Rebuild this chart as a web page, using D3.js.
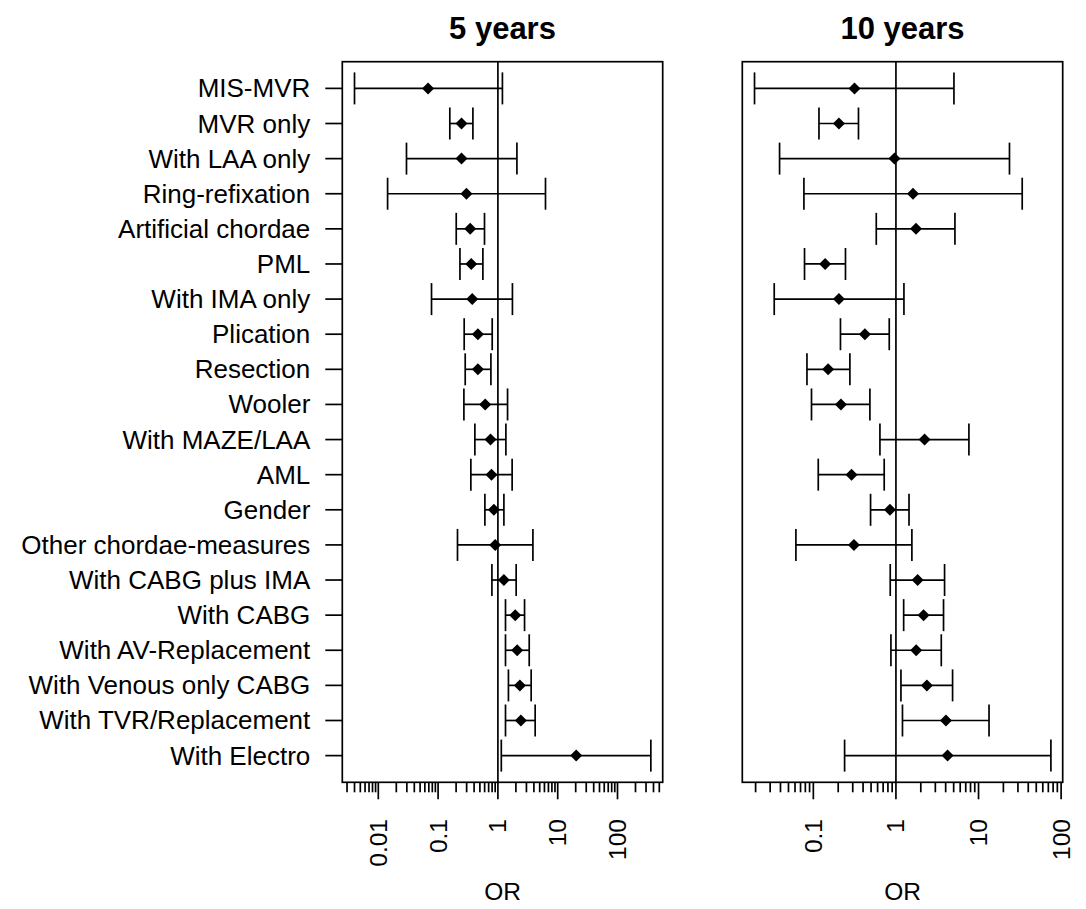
<!DOCTYPE html>
<html>
<head>
<meta charset="utf-8">
<script src="https://cdn.jsdelivr.net/npm/d3@7"></script>
<style>
  html, body { margin: 0; padding: 0; background: #fff; }
  text { font-family: "Liberation Sans", Arial, sans-serif; fill: #000; }
</style>
</head>
<body>
<svg id="chart" width="1086" height="909"></svg>
<script>
// ---- data ----
const labels = ["MIS-MVR","MVR only","With LAA only","Ring-refixation","Artificial chordae","PML","With IMA only","Plication","Resection","Wooler","With MAZE/LAA","AML","Gender","Other chordae-measures","With CABG plus IMA","With CABG","With AV-Replacement","With Venous only CABG","With TVR/Replacement","With Electro"];

const or5 = [0.068,0.246,0.246,0.298,0.344,0.358,0.372,0.463,0.463,0.613,0.752,0.781,0.857,0.90,1.26,1.95,2.10,2.33,2.42,20.4];
const lo5 = [0.0040,0.157,0.0296,0.0143,0.201,0.232,0.0776,0.273,0.284,0.270,0.412,0.353,0.606,0.211,0.794,1.34,1.34,1.50,1.34,1.14];
const hi5 = [1.19,0.382,2.08,6.25,0.597,0.561,1.75,0.803,0.764,1.45,1.36,1.73,1.26,3.85,2.02,2.79,3.34,3.60,4.20,361];

const or10 = [0.315,0.204,0.96,1.61,1.75,0.139,0.204,0.421,0.151,0.216,2.22,0.29,0.846,0.31,1.83,2.16,1.76,2.37,4.03,4.22];
const lo10 = [0.0194,0.117,0.039,0.0769,0.578,0.0782,0.0336,0.213,0.0837,0.095,0.64,0.1147,0.493,0.0615,0.853,1.24,0.87,1.15,1.20,0.239];
const hi10 = [5.04,0.352,23.7,33.8,5.18,0.245,1.25,0.83,0.277,0.484,7.65,0.721,1.44,1.56,3.88,3.77,3.54,4.85,13.4,75.2];

const titles = ["5 years", "10 years"];
const majorTicks5 = [0.01, 0.1, 1, 10, 100];
const majorTickLabels5 = ["0.01", "0.1", "1", "10", "100"];
const majorTicks10 = [0.1, 1, 10, 100];
const majorTickLabels10 = ["0.1", "1", "10", "100"];
const xDomain5 = [0.0025, 570];
const xDomain10 = [0.0138, 104.5];
const axisTitle = "OR";

// ---- layout ----
const svg = d3.select("#chart");
const plotTop = 61.7, plotBottom = 782.3;
const panels = [
  { left: 342.3, right: 662.7, or: or5, lo: lo5, hi: hi5, dom: xDomain5, major: majorTicks5, majorLab: majorTickLabels5, title: titles[0], yaxis: true },
  { left: 742.3, right: 1062.7, or: or10, lo: lo10, hi: hi10, dom: xDomain10, major: majorTicks10, majorLab: majorTickLabels10, title: titles[1], yaxis: false }
];

const y = d3.scaleLinear().domain([0.24, labels.length + 0.76]).range([plotTop, plotBottom]);
const lw = 1.7;

function minorTicks(dom) {
  const out = [];
  const lo = Math.floor(Math.log10(dom[0])), hi = Math.ceil(Math.log10(dom[1]));
  for (let e = lo; e <= hi; e++) {
    for (let m = 2; m <= 9; m++) {
      const v = m * Math.pow(10, e);
      if (v >= dom[0] && v <= dom[1]) out.push(v);
    }
  }
  return out;
}

panels.forEach(p => {
  const x = d3.scaleLog().domain(p.dom).range([p.left, p.right]);
  const g = svg.append("g");

  // reference line at OR = 1
  g.append("line")
    .attr("x1", x(1)).attr("x2", x(1))
    .attr("y1", plotTop).attr("y2", plotBottom)
    .attr("stroke", "#000").attr("stroke-width", lw);

  // error bars
  const rows = labels.map((d, i) => ({ label: d, i: i + 1, or: p.or[i], lo: p.lo[i], hi: p.hi[i] }));
  const eb = g.selectAll("g.eb").data(rows).join("g").attr("class", "eb");
  eb.append("line")
    .attr("x1", d => x(d.lo)).attr("x2", d => x(d.hi))
    .attr("y1", d => y(d.i)).attr("y2", d => y(d.i))
    .attr("stroke", "#000").attr("stroke-width", lw);
  eb.append("line")
    .attr("x1", d => x(d.lo)).attr("x2", d => x(d.lo))
    .attr("y1", d => y(d.i) - 16).attr("y2", d => y(d.i) + 16)
    .attr("stroke", "#000").attr("stroke-width", lw);
  eb.append("line")
    .attr("x1", d => x(d.hi)).attr("x2", d => x(d.hi))
    .attr("y1", d => y(d.i) - 16).attr("y2", d => y(d.i) + 16)
    .attr("stroke", "#000").attr("stroke-width", lw);
  const s = 6;
  eb.append("path")
    .attr("d", d => {
      const cx = x(d.or), cy = y(d.i);
      return `M${cx},${cy - s}L${cx + s},${cy}L${cx},${cy + s}L${cx - s},${cy}Z`;
    })
    .attr("fill", "#000");

  // box
  g.append("rect")
    .attr("x", p.left).attr("y", plotTop)
    .attr("width", p.right - p.left).attr("height", plotBottom - plotTop)
    .attr("fill", "none").attr("stroke", "#000").attr("stroke-width", lw);

  // x axis ticks
  const xa = g.append("g");
  xa.selectAll("line.maj").data(p.major).join("line").attr("class", "maj")
    .attr("x1", d => x(d)).attr("x2", d => x(d))
    .attr("y1", plotBottom).attr("y2", plotBottom + 17)
    .attr("stroke", "#000").attr("stroke-width", lw);
  xa.selectAll("line.min").data(minorTicks(p.dom)).join("line").attr("class", "min")
    .attr("x1", d => x(d)).attr("x2", d => x(d))
    .attr("y1", plotBottom).attr("y2", plotBottom + 10)
    .attr("stroke", "#000").attr("stroke-width", lw);
  xa.selectAll("text").data(p.major).join("text")
    .attr("transform", d => `translate(${x(d)},${819}) rotate(-90)`)
    .attr("text-anchor", "end")
    .attr("dominant-baseline", "central")
    .attr("font-size", 24.5)
    .text((d, i) => p.majorLab[i]);

  // axis title
  g.append("text")
    .attr("x", (p.left + p.right) / 2).attr("y", 900)
    .attr("text-anchor", "middle").attr("font-size", 24.5)
    .text(axisTitle);

  // panel title
  g.append("text")
    .attr("x", (p.left + p.right) / 2).attr("y", 39)
    .attr("text-anchor", "middle").attr("font-size", 31).attr("font-weight", "bold")
    .text(p.title);

  // y axis
  if (p.yaxis) {
    const ya = g.append("g");
    ya.selectAll("line").data(rows).join("line")
      .attr("x1", p.left - 17).attr("x2", p.left)
      .attr("y1", d => y(d.i)).attr("y2", d => y(d.i))
      .attr("stroke", "#000").attr("stroke-width", lw);
    ya.selectAll("text").data(rows).join("text")
      .attr("x", p.left - 32).attr("y", d => y(d.i))
      .attr("text-anchor", "end").attr("dominant-baseline", "central")
      .attr("font-size", 26)
      .text(d => d.label);
  }
});
</script>
</body>
</html>
